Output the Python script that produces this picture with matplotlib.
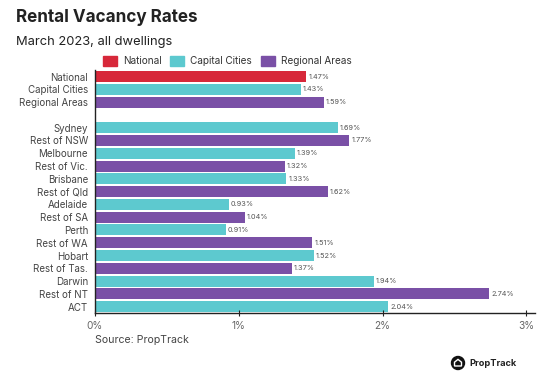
import matplotlib.pyplot as plt
from matplotlib.patches import Ellipse, Polygon
import numpy as np

plt.rcParams['font.family'] = ['Inter', 'DejaVu Sans']

labels = ['National', 'Capital Cities', 'Regional Areas',
          'Sydney', 'Rest of NSW', 'Melbourne', 'Rest of Vic.', 'Brisbane',
          'Rest of Qld', 'Adelaide', 'Rest of SA', 'Perth', 'Rest of WA',
          'Hobart', 'Rest of Tas.', 'Darwin', 'Rest of NT', 'ACT']
values = [1.47, 1.43, 1.59,
          1.69, 1.77, 1.39, 1.32, 1.33, 1.62, 0.93, 1.04, 0.91, 1.51,
          1.52, 1.37, 1.94, 2.74, 2.04]
groups = ['National', 'Capital Cities', 'Regional Areas',
          'Capital Cities', 'Regional Areas', 'Capital Cities', 'Regional Areas',
          'Capital Cities', 'Regional Areas', 'Capital Cities', 'Regional Areas',
          'Capital Cities', 'Regional Areas', 'Capital Cities', 'Regional Areas',
          'Capital Cities', 'Regional Areas', 'Capital Cities']
colors = {'National': '#d7283a', 'Capital Cities': '#5dc9cf', 'Regional Areas': '#7a50a6'}

# one empty row between the summary rows and the regions
pos = np.array([0, 1, 2] + list(range(4, 19)))

fig = plt.figure(figsize=(5.5, 3.79), dpi=100)
ax = fig.add_axes([0.1727, 0.174, 0.8, 0.641])

for p, v, g in zip(pos, values, groups):
    ax.barh(p, v, height=0.86, color=colors[g])
    ax.text(v + 0.015, p, f'{v:.2f}%', va='center', ha='left', fontsize=5.3, color='#555555')

ax.set_ylim(18.5, -0.5)
ax.set_xlim(0, 3.06)
ax.set_yticks(pos)
ax.set_yticklabels(labels, fontsize=7.0, color='#444444')
ax.tick_params(axis='y', length=0, pad=5)
ax.set_xticks([0, 1, 2, 3])
ax.set_xticklabels(['0%', '1%', '2%', '3%'], fontsize=7.3, color='#666666')
ax.tick_params(axis='x', length=4, width=0.8, pad=4, color='#222222', direction='inout')
for s in ['top', 'right']:
    ax.spines[s].set_visible(False)
ax.spines['left'].set_color('#222222')
ax.spines['bottom'].set_color('#222222')
ax.spines['left'].set_linewidth(1.0)
ax.spines['bottom'].set_linewidth(1.0)

handles = [plt.Rectangle((0, 0), 1, 1, color=colors[k]) for k in colors]
fig.legend(handles, list(colors.keys()), loc='center left', bbox_to_anchor=(0.187, 0.839),
           ncol=3, frameon=False, fontsize=7.2, handlelength=1.4, handleheight=1.3,
           columnspacing=0.9, handletextpad=0.6, borderaxespad=0, borderpad=0,
           labelcolor='#333333')

fig.text(0.03, 0.953, 'Rental Vacancy Rates', fontsize=12.3, fontweight='bold', color='#222222', va='center')
fig.text(0.03, 0.889, 'March 2023, all dwellings', fontsize=9.3, color='#222222', va='center')
fig.text(0.172, 1 - 340 / 379, 'Source: PropTrack', fontsize=7.6, color='#444444', va='center')

# logo
cx, cy = 458 / 550, 1 - 363 / 379
fig.patches.append(Ellipse((cx, cy), 13 / 550, 13 / 379, transform=fig.transFigure, color='#111111'))
house = [(-3.5, -3), (3.5, -3), (3.5, 0.8), (0, 3.6), (-3.5, 0.8)]
fig.patches.append(Polygon([(cx + x / 550, cy + y / 379) for x, y in house], closed=True,
                           transform=fig.transFigure, facecolor='none', edgecolor='white', lw=1.0))
fig.text(0.853, cy, 'PropTrack', fontsize=6.6, fontweight='bold', color='#222222', va='center')

fig.savefig('out.png', dpi=100)
